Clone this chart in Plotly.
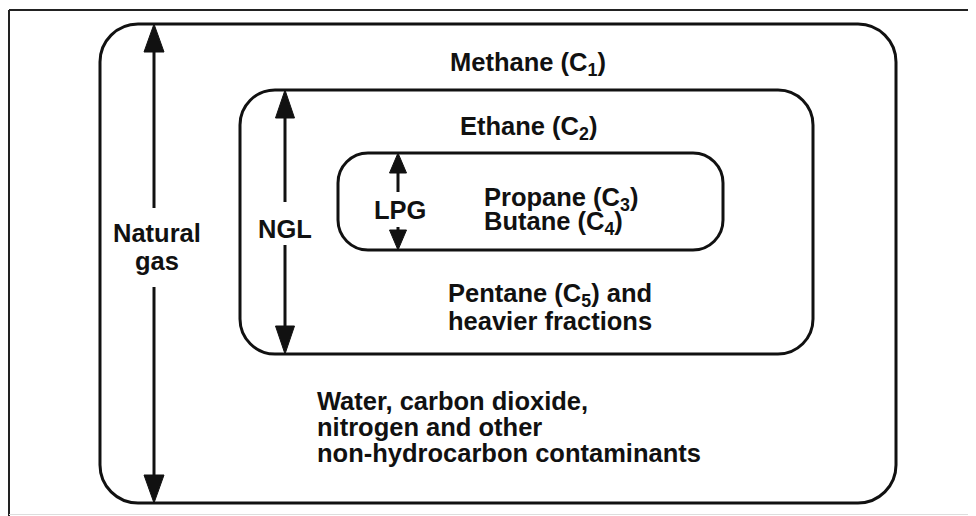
import plotly.graph_objects as go

# ---- diagram "data" (page pixel space of a 976x516 window) ----
box_names = ["Natural gas", "NGL", "LPG"]
box_left = [100, 240, 338]
box_top = [24, 90, 153]
box_right = [896, 813, 723]
box_bottom = [503, 354, 250]
box_radius = [38, 35, 30]

arrow_x = [154, 285, 398]
arrow_gap_top = [208, 202, 192]
arrow_gap_bottom = [287, 245, 227]
arrow_head_len = [28, 28, 20]
arrow_head_w = [20, 19, 17]
arrow_labels = ["Natural", "gas", "NGL", "LPG"]
arrow_label_x = [157, 157, 285, 400]
arrow_label_y = [233, 261, 229, 210]

centered_labels = ["Methane (C<sub>1</sub>)", "Ethane (C<sub>2</sub>)",
                   "Pentane (C<sub>5</sub>) and", "heavier fractions"]
centered_x = [528, 528, 550, 550]
centered_y = [64, 128, 295, 321]

left_labels = ["Propane (C<sub>3</sub>)", "Butane (C<sub>4</sub>)",
               "Water, carbon dioxide,", "nitrogen and other",
               "non-hydrocarbon contaminants"]
left_x = [482, 482, 315, 315, 315]
left_y = [199, 223, 401, 427, 453]

INK = "#111111"
FONT = dict(family="Liberation Sans, Arial, Helvetica, sans-serif", size=25.5, color=INK, weight=700)

# the page body has an 8px margin; shift the axes so that values are page pixels
PAGE_OFF = 8
W, H = 976, 516

K = 0.5523


def rounded_path(x0, y0, x1, y1, r):
    c = r * (1 - K)
    return (f"M{x0 + r},{y0} L{x1 - r},{y0} "
            f"C{x1 - c},{y0} {x1},{y0 + c} {x1},{y0 + r} "
            f"L{x1},{y1 - r} "
            f"C{x1},{y1 - c} {x1 - c},{y1} {x1 - r},{y1} "
            f"L{x0 + r},{y1} "
            f"C{x0 + c},{y1} {x0},{y1 - c} {x0},{y1 - r} "
            f"L{x0},{y0 + r} "
            f"C{x0},{y0 + c} {x0 + c},{y0} {x0 + r},{y0} Z")


fig = go.Figure()
shapes = []

# outer frame
shapes.append(dict(type="line", x0=9, y0=10, x1=W + 5, y1=10, line=dict(color="#222", width=2)))
shapes.append(dict(type="line", x0=9, y0=10, x1=9, y1=H + 5, line=dict(color="#222", width=2)))
shapes.append(dict(type="line", x0=9, y0=514.5, x1=W + 5, y1=514.5, line=dict(color="#dddddd", width=1)))

# rounded boxes
for i in range(len(box_names)):
    shapes.append(dict(type="path",
                       path=rounded_path(box_left[i], box_top[i], box_right[i], box_bottom[i], box_radius[i]),
                       line=dict(color=INK, width=3), fillcolor="rgba(0,0,0,0)"))

# double-headed arrows
for i in range(len(box_names)):
    x = arrow_x[i]
    t, b = box_top[i], box_bottom[i]
    hl, hw = arrow_head_len[i], arrow_head_w[i]
    shapes.append(dict(type="line", x0=x, y0=t + hl - 2, x1=x, y1=arrow_gap_top[i], line=dict(color=INK, width=3)))
    shapes.append(dict(type="line", x0=x, y0=arrow_gap_bottom[i], x1=x, y1=b - hl + 2, line=dict(color=INK, width=3)))
    shapes.append(dict(type="path", path=f"M{x},{t} L{x - hw / 2},{t + hl} L{x + hw / 2},{t + hl} Z",
                       fillcolor=INK, line=dict(color=INK, width=1)))
    shapes.append(dict(type="path", path=f"M{x},{b} L{x - hw / 2},{b - hl} L{x + hw / 2},{b - hl} Z",
                       fillcolor=INK, line=dict(color=INK, width=1)))

annotations = []
for txt, x, y in zip(arrow_labels, arrow_label_x, arrow_label_y):
    annotations.append(dict(text=txt, x=x, y=y, xanchor="center", yanchor="middle", showarrow=False, font=FONT))
for txt, x, y in zip(centered_labels, centered_x, centered_y):
    annotations.append(dict(text=txt, x=x, y=y, xanchor="center", yanchor="middle", showarrow=False, font=FONT))
for txt, x, y in zip(left_labels, left_x, left_y):
    annotations.append(dict(text=txt, x=x, y=y, xanchor="left", yanchor="middle", showarrow=False, font=FONT))

fig.update_layout(
    width=W - PAGE_OFF, height=H - PAGE_OFF,
    margin=dict(l=0, r=0, t=0, b=0),
    paper_bgcolor="white", plot_bgcolor="white",
    xaxis=dict(range=[PAGE_OFF, W], visible=False, fixedrange=True),
    yaxis=dict(range=[H, PAGE_OFF], visible=False, fixedrange=True),
    shapes=shapes, annotations=annotations,
    showlegend=False,
)

fig.write_html("out.html", config={"displayModeBar": False})
